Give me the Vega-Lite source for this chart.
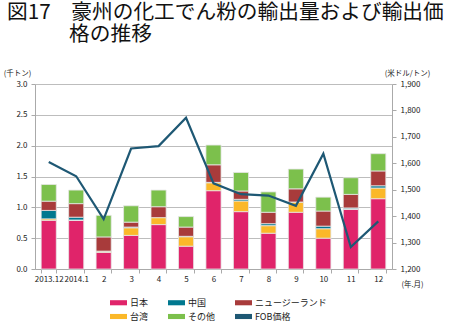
{
  "$schema": "https://vega.github.io/schema/vega-lite/v6.json",
  "autosize": "none",
  "padding": {"left": 35, "top": 84, "right": 58, "bottom": 60},
  "width": 357,
  "height": 185,
  "background": "white",
  "config": {
    "font": "Noto Sans CJK JP",
    "view": {"stroke": null},
    "axis": {"labelFont": "Noto Sans CJK JP", "titleFont": "Noto Sans CJK JP", "labelColor": "#222", "titleColor": "#222", "labelFontSize": 8, "titleFontSize": 7.5, "titleFontWeight": "normal", "domainColor": "#aaa", "tickColor": "#aaa", "gridColor": "#bdbdbd"}
  },
  "title": {
    "text": ["図17　豪州の化工でん粉の輸出量および輸出価", "\u200b　　　格の推移"],
    "anchor": "start",
    "frame": "group",
    "font": "Noto Sans CJK JP",
    "fontSize": 20.7,
    "fontWeight": "normal",
    "lineHeight": 22,
    "color": "#111",
    "dx": -28,
    "offset": 23
  },
  "datasets": {
    "bars": [
      {"month": "2013.12", "series": "日本", "value": 0.79},
      {"month": "2013.12", "series": "中国", "value": 0.14},
      {"month": "2013.12", "series": "ニュージーランド", "value": 0.15},
      {"month": "2013.12", "series": "台湾", "value": 0.02},
      {"month": "2013.12", "series": "その他", "value": 0.27},
      {"month": "2014.1", "series": "日本", "value": 0.79},
      {"month": "2014.1", "series": "中国", "value": 0.05},
      {"month": "2014.1", "series": "ニュージーランド", "value": 0.22},
      {"month": "2014.1", "series": "台湾", "value": 0.0},
      {"month": "2014.1", "series": "その他", "value": 0.22},
      {"month": "2", "series": "日本", "value": 0.27},
      {"month": "2", "series": "中国", "value": 0.01},
      {"month": "2", "series": "ニュージーランド", "value": 0.23},
      {"month": "2", "series": "台湾", "value": 0.01},
      {"month": "2", "series": "その他", "value": 0.35},
      {"month": "3", "series": "日本", "value": 0.545},
      {"month": "3", "series": "中国", "value": 0.015},
      {"month": "3", "series": "ニュージーランド", "value": 0.08},
      {"month": "3", "series": "台湾", "value": 0.12},
      {"month": "3", "series": "その他", "value": 0.265},
      {"month": "4", "series": "日本", "value": 0.72},
      {"month": "4", "series": "中国", "value": 0.0},
      {"month": "4", "series": "ニュージーランド", "value": 0.18},
      {"month": "4", "series": "台湾", "value": 0.11},
      {"month": "4", "series": "その他", "value": 0.27},
      {"month": "5", "series": "日本", "value": 0.37},
      {"month": "5", "series": "中国", "value": 0.01},
      {"month": "5", "series": "ニュージーランド", "value": 0.15},
      {"month": "5", "series": "台湾", "value": 0.15},
      {"month": "5", "series": "その他", "value": 0.17},
      {"month": "6", "series": "日本", "value": 1.27},
      {"month": "6", "series": "中国", "value": 0.01},
      {"month": "6", "series": "ニュージーランド", "value": 0.285},
      {"month": "6", "series": "台湾", "value": 0.125},
      {"month": "6", "series": "その他", "value": 0.32},
      {"month": "7", "series": "日本", "value": 0.93},
      {"month": "7", "series": "中国", "value": 0.03},
      {"month": "7", "series": "ニュージーランド", "value": 0.135},
      {"month": "7", "series": "台湾", "value": 0.17},
      {"month": "7", "series": "その他", "value": 0.3},
      {"month": "8", "series": "日本", "value": 0.58},
      {"month": "8", "series": "中国", "value": 0.035},
      {"month": "8", "series": "ニュージーランド", "value": 0.185},
      {"month": "8", "series": "台湾", "value": 0.12},
      {"month": "8", "series": "その他", "value": 0.33},
      {"month": "9", "series": "日本", "value": 0.92},
      {"month": "9", "series": "中国", "value": 0.005},
      {"month": "9", "series": "ニュージーランド", "value": 0.215},
      {"month": "9", "series": "台湾", "value": 0.16},
      {"month": "9", "series": "その他", "value": 0.32},
      {"month": "10", "series": "日本", "value": 0.5},
      {"month": "10", "series": "中国", "value": 0.045},
      {"month": "10", "series": "ニュージーランド", "value": 0.245},
      {"month": "10", "series": "台湾", "value": 0.15},
      {"month": "10", "series": "その他", "value": 0.225},
      {"month": "11", "series": "日本", "value": 0.97},
      {"month": "11", "series": "中国", "value": 0.02},
      {"month": "11", "series": "ニュージーランド", "value": 0.22},
      {"month": "11", "series": "台湾", "value": 0.0},
      {"month": "11", "series": "その他", "value": 0.27},
      {"month": "12", "series": "日本", "value": 1.14},
      {"month": "12", "series": "中国", "value": 0.04},
      {"month": "12", "series": "ニュージーランド", "value": 0.24},
      {"month": "12", "series": "台湾", "value": 0.17},
      {"month": "12", "series": "その他", "value": 0.28}
    ],
    "price": [
      {"month": "2013.12", "series": "FOB価格", "price": 1605},
      {"month": "2014.1", "series": "FOB価格", "price": 1551},
      {"month": "2", "series": "FOB価格", "price": 1389},
      {"month": "3", "series": "FOB価格", "price": 1656},
      {"month": "4", "series": "FOB価格", "price": 1665},
      {"month": "5", "series": "FOB価格", "price": 1772},
      {"month": "6", "series": "FOB価格", "price": 1524},
      {"month": "7", "series": "FOB価格", "price": 1483},
      {"month": "8", "series": "FOB価格", "price": 1478},
      {"month": "9", "series": "FOB価格", "price": 1439},
      {"month": "10", "series": "FOB価格", "price": 1636},
      {"month": "11", "series": "FOB価格", "price": 1283},
      {"month": "12", "series": "FOB価格", "price": 1380}
    ]
  },
  "encoding": {
    "x": {
      "field": "month",
      "type": "nominal",
      "sort": ["2013.12", "2014.1", "2", "3", "4", "5", "6", "7", "8", "9", "10", "11", "12"],
      "scale": {"paddingInner": 0.45, "paddingOuter": 0.225},
      "axis": {"title": "(年.月)", "titleAngle": 0, "titleAlign": "center", "titleBaseline": "middle", "titleX": 377, "titleY": 15, "labelAngle": 0, "tickBand": "extent", "tickSize": 4, "labelPadding": 2, "domainColor": "#aaa"}
    }
  },
  "layer": [
    {
      "data": {"name": "bars"},
      "mark": {"type": "bar", "stroke": "#e6e6e6", "strokeWidth": 0.8},
      "encoding": {
        "y": {
          "field": "value",
          "type": "quantitative",
          "stack": "zero",
          "scale": {"domain": [0, 3]},
          "axis": {"title": "(千トン)", "titleAngle": 0, "titleAlign": "center", "titleBaseline": "middle", "titleX": -18, "titleY": -11, "values": [0, 0.5, 1, 1.5, 2, 2.5, 3], "format": ".1f", "tickSize": 4, "labelPadding": 4, "grid": true}
        },
        "color": {
          "field": "series",
          "type": "nominal",
          "sort": ["日本", "中国", "ニュージーランド", "台湾", "その他"],
          "scale": {
            "domain": ["日本", "中国", "ニュージーランド", "台湾", "その他", "FOB価格"],
            "range": ["#E0246A", "#00788F", "#A83B3B", "#FBB829", "#7CC04C", "#1E5874"]
          },
          "legend": {
            "title": null,
            "orient": "none",
            "legendX": 75,
            "legendY": 210,
            "columns": 3,
            "direction": "horizontal",
            "columnPadding": 19,
            "rowPadding": -4,
            "labelFont": "Noto Sans CJK JP",
            "labelFontSize": 9,
            "labelColor": "#222",
            "labelOffset": 3,
            "symbolType": "M-1,-0.3H1V0.3H-1Z",
            "symbolSize": 289,
            "symbolStrokeWidth": 0,
            "symbolOpacity": 1,
            "encode": {
              "symbols": {
                "update": {
                  "fill": {"scale": "color", "field": "value"},
                  "strokeWidth": {"value": 0},
                  "opacity": {"value": 1},
                  "fillOpacity": {"value": 1}
                }
              }
            }
          }
        }
      }
    },
    {
      "data": {"name": "price"},
      "mark": {"type": "line", "strokeWidth": 2.2},
      "encoding": {
        "y": {
          "field": "price",
          "type": "quantitative",
          "scale": {"domain": [1200, 1900]},
          "axis": {"orient": "right", "title": "(米ドル/トン)", "titleAngle": 0, "titleAlign": "center", "titleBaseline": "middle", "titleX": 15, "titleY": -11, "values": [1200, 1300, 1400, 1500, 1600, 1700, 1800, 1900], "format": ",d", "tickSize": 4, "labelPadding": 4, "grid": false}
        },
        "color": {"field": "series", "type": "nominal"}
      }
    }
  ],
  "resolve": {"scale": {"y": "independent"}}
}
